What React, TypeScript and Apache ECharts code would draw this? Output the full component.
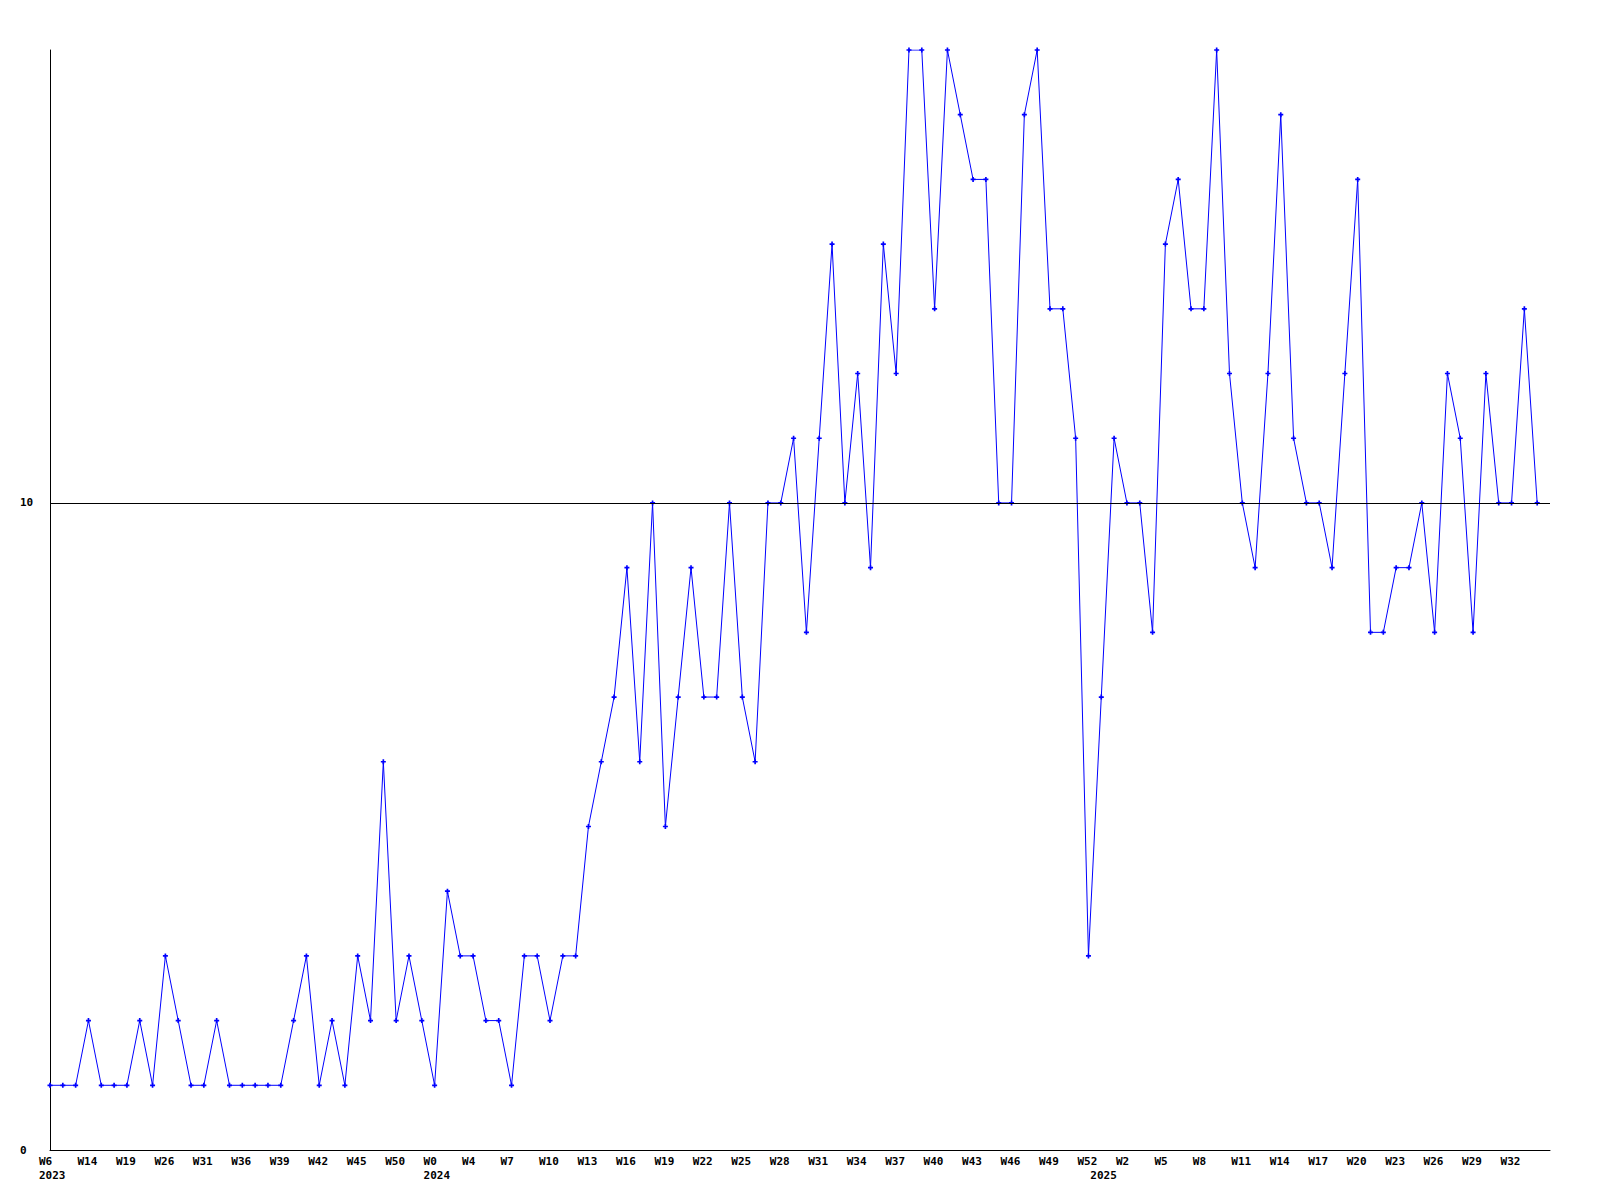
import React, { useEffect, useRef } from "react";
import * as echarts from "echarts";

// Week numbers present in the data, per year (labels every third point)
const weeks2023 = [6, 9, 12, 14, 16, 17, 19, 22, 24, 26, 28, 29, 31, 33, 34, 36, 37, 38, 39, 40, 41, 42, 43, 44, 45, 47, 49, 50, 51, 52];
const weeks2024 = [0, 1, 3, 4, 5, 6, 7, 8, 9, 10, 11, 12, 13, 14, 15, 16, 17, 18, 19, 20, 21, 22, 23, 24, 25, 26, 27, 28, 29, 30, 31, 32, 33, 34, 35, 36, 37, 38, 39, 40, 41, 42, 43, 44, 45, 46, 47, 48, 49, 50, 51, 52];
const weeks2025 = [0, 1, 2, 3, 4, 5, 6, 7, 8, 9, 10, 11, 12, 13, 14, 15, 16, 17, 18, 19, 20, 21, 22, 23, 24, 25, 26, 27, 28, 29, 30, 31, 32, 33, 34, 35];

const categories: string[] = [
  ...weeks2023.map((w) => `2023 W${w}`),
  ...weeks2024.map((w) => `2024 W${w}`),
  ...weeks2025.map((w) => `2025 W${w}`),
];

const values = [
  1, 1, 1, 2, 1, 1, 1, 2, 1, 3,
  2, 1, 1, 2, 1, 1, 1, 1, 1, 2,
  3, 1, 2, 1, 3, 2, 6, 2, 3, 2,
  1, 4, 3, 3, 2, 2, 1, 3, 3, 2,
  3, 3, 5, 6, 7, 9, 6, 10, 5, 7,
  9, 7, 7, 10, 7, 6, 10, 10, 11, 8,
  11, 14, 10, 12, 9, 14, 12, 17, 17, 13,
  17, 16, 15, 15, 10, 10, 16, 17, 13, 13,
  11, 3, 7, 11, 10, 10, 8, 14, 15, 13,
  13, 17, 12, 10, 9, 12, 16, 11, 10, 10,
  9, 12, 15, 8, 8, 9, 9, 10, 8, 12,
  11, 8, 12, 10, 10, 13, 10,
];

const yMin = 0;
const yMax = 17;
const yInterval = 10;
const referenceLevel = 10;

export default function App() {
  const ref = useRef<HTMLDivElement>(null);

  useEffect(() => {
    if (!ref.current) return;
    const chart = echarts.init(ref.current, null, { renderer: "svg" });
    const font = {
      fontFamily: "'DejaVu Sans Mono', monospace",
      fontWeight: "bold" as const,
      fontSize: 11,
      color: "#000",
    };
    const yearOf = (c: string) => c.split(" ")[0];
    const yearStarts = categories
      .map((_, i) => i)
      .filter((i) => i === 0 || yearOf(categories[i]) !== yearOf(categories[i - 1]));

    chart.setOption({
      animation: false,
      backgroundColor: "#ffffff",
      grid: [
        { left: 50, right: 50, top: 50, bottom: 50 },
        { left: 39, right: 61, top: 50, bottom: 50 },
      ],
      xAxis: [
        {
          type: "category",
          gridIndex: 0,
          position: "bottom",
          data: categories,
          boundaryGap: false,
          axisLine: { show: true, lineStyle: { color: "#000", width: 1 } },
          axisTick: { show: false },
          axisLabel: { show: false },
          splitLine: { show: false },
        },
        {
          type: "category",
          gridIndex: 1,
          position: "bottom",
          data: categories,
          boundaryGap: false,
          axisLine: { show: false },
          axisTick: { show: false },
          splitLine: { show: false },
          axisLabel: {
            interval: (i: number) => i % 3 === 0 && i < values.length,
            align: "left",
            margin: 6,
            formatter: (v: string) => v.split(" ")[1],
            ...font,
          },
        },
        {
          type: "category",
          gridIndex: 1,
          position: "bottom",
          data: categories,
          boundaryGap: false,
          axisLine: { show: false },
          axisTick: { show: false },
          splitLine: { show: false },
          axisLabel: {
            interval: (i: number) => yearStarts.includes(i),
            align: "left",
            margin: 20,
            formatter: (v: string) => yearOf(v),
            ...font,
          },
        },
      ],
      yAxis: [
        {
          type: "value",
          gridIndex: 0,
          min: yMin,
          max: yMax,
          interval: yInterval,
          axisLine: { show: true, lineStyle: { color: "#000", width: 1 } },
          axisTick: { show: false },
          splitLine: { show: false },
          axisLabel: { align: "left", margin: 30, showMaxLabel: false, ...font },
        },
        { type: "value", gridIndex: 1, min: yMin, max: yMax, show: false },
      ],
      series: [
        {
          type: "line",
          xAxisIndex: 0,
          yAxisIndex: 0,
          data: values,
          symbol: "path://M1,0H2V1H3V2H2V3H1V2H0V1H1Z",
          symbolSize: 5,
          showSymbol: true,
          lineStyle: { color: "#0000ff", width: 1 },
          itemStyle: { color: "#0000ff" },
          markLine: {
            silent: true,
            symbol: "none",
            label: { show: false },
            lineStyle: { color: "#000", width: 1, type: "solid" },
            data: [{ yAxis: referenceLevel }],
          },
        },
      ],
    });

    return () => chart.dispose();
  }, []);

  return (
    <div
      ref={ref}
      style={{ position: "absolute", left: 0, top: 0, width: 1600, height: 1200, background: "#fff" }}
    />
  );
}
